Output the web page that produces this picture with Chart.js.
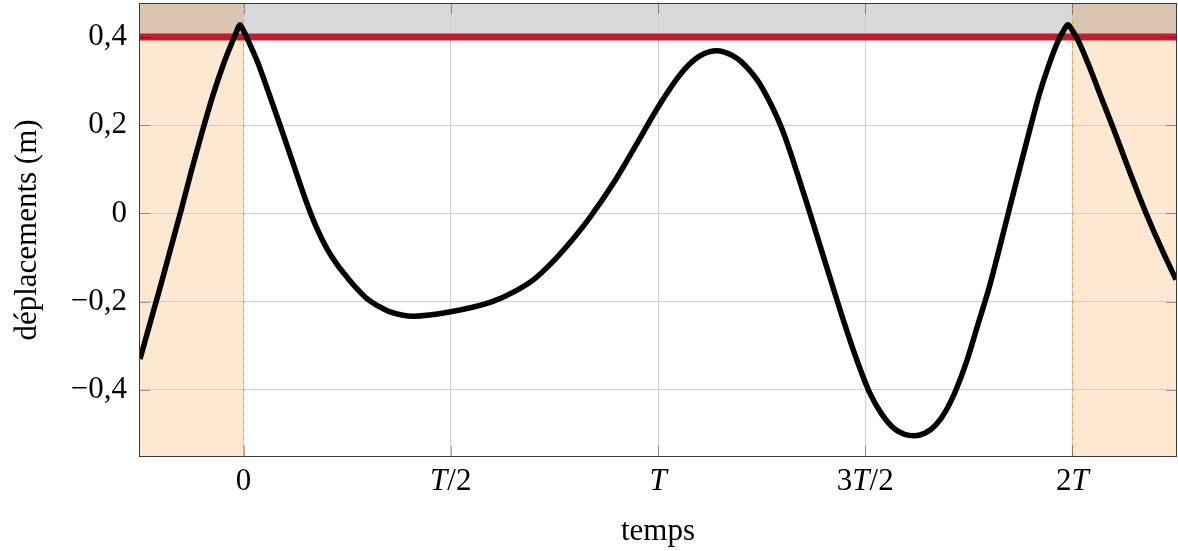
<!DOCTYPE html>
<html lang="fr">
<head>
<meta charset="utf-8">
<title>Déplacements</title>
<script src="https://cdn.jsdelivr.net/npm/chart.js@4.4.0/dist/chart.umd.min.js"></script>
<style>
  body { margin: 0; background: #fff; }
  #chart { display: block; }
</style>
</head>
<body>
<canvas id="chart" width="1178" height="551"></canvas>
<script>
// temps en multiples de T, déplacements en m
const timeValues = [
  -0.25, -0.2, -0.15, -0.125, -0.1, -0.075, -0.05, -0.03, -0.018, -0.009,
  0.0, 0.012, 0.033, 0.06, 0.088, 0.12, 0.15, 0.175, 0.2, 0.225,
  0.25, 0.275, 0.3, 0.325, 0.35, 0.41, 0.5, 0.6, 0.65, 0.7,
  0.735, 0.77, 0.83, 0.9, 0.95, 1.0, 1.05, 1.075, 1.1, 1.125,
  1.141, 1.16, 1.18, 1.2, 1.225, 1.25, 1.3, 1.35, 1.4, 1.45,
  1.48, 1.51, 1.54, 1.57, 1.595, 1.619, 1.645, 1.67, 1.695, 1.72,
  1.745, 1.77, 1.8, 1.825, 1.85, 1.875, 1.9, 1.92, 1.94, 1.965,
  1.979, 1.989, 2.0, 2.015, 2.04, 2.07, 2.1, 2.14, 2.178, 2.215,
  2.25
];
const displacementValues = [
  -0.33, -0.163, 0.01, 0.1, 0.185, 0.265, 0.335, 0.383, 0.41, 0.428,
  0.414, 0.39, 0.345, 0.275, 0.2, 0.112, 0.03, -0.03, -0.078, -0.115,
  -0.145, -0.172, -0.195, -0.21, -0.222, -0.233, -0.223, -0.2, -0.179, -0.15,
  -0.12, -0.085, -0.016, 0.08, 0.16, 0.241, 0.311, 0.338, 0.357, 0.367,
  0.369, 0.366, 0.358, 0.345, 0.32, 0.287, 0.19, 0.05, -0.1, -0.25,
  -0.333, -0.405, -0.455, -0.488, -0.501, -0.504, -0.498, -0.48, -0.447, -0.398,
  -0.335, -0.258, -0.165, -0.075, 0.018, 0.11, 0.2, 0.27, 0.328, 0.39,
  0.415, 0.428, 0.415, 0.39, 0.335, 0.262, 0.19, 0.09, 0.0, -0.08,
  -0.15
];

const xTickValues = [0, 0.5, 1, 1.5, 2];
const xTickLabels = ["0", "T/2", "T", "3T/2", "2T"];
const yTickValues = [-0.4, -0.2, 0, 0.2, 0.4];
const yTickLabels = ["\u22120,4", "\u22120,2", "0", "0,2", "0,4"];

const limitValue = 0.4;
const shadedRanges = [[-0.25, 0], [2, 2.25]];
const markerTimes = [0, 2];
const xRange = [-0.25, 2.25];
const yRange = [-0.55, 0.475];

const serif = "'Liberation Serif', 'DejaVu Serif', serif";
const fontSize = 31;

const curvePoints = timeValues.map((t, i) => ({ x: t, y: displacementValues[i] }));
const limitPoints = xRange.map((t) => ({ x: t, y: limitValue }));

const markerDatasets = markerTimes.map((t) => ({
  data: yRange.map((v) => ({ x: t, y: v })),
  borderColor: "#f2a33a",
  borderWidth: 1,
  borderDash: [5, 3],
  pointRadius: 0,
  order: 3,
}));

// zones colorées sous la grille
const backgroundPlugin = {
  id: "background",
  beforeDraw(chart) {
    const { ctx, chartArea, scales } = chart;
    ctx.save();
    ctx.fillStyle = "#fff";
    ctx.fillRect(0, 0, chart.width, chart.height);
    ctx.fillStyle = "#ffe8d1";
    shadedRanges.forEach(([a, b]) => {
      const x1 = scales.x.getPixelForValue(a);
      const x2 = scales.x.getPixelForValue(b);
      ctx.fillRect(x1, chartArea.top, x2 - x1, chartArea.bottom - chartArea.top);
    });
    const yLimit = scales.y.getPixelForValue(limitValue);
    ctx.fillStyle = "rgba(0, 0, 0, 0.15)";
    ctx.fillRect(chartArea.left, chartArea.top, chartArea.right - chartArea.left, yLimit - chartArea.top);
    ctx.restore();
  },
};

// cadre, petites graduations et étiquettes en T
const framePlugin = {
  id: "frame",
  afterDraw(chart) {
    const { ctx, chartArea } = chart;
    const { left, right, top, bottom } = chartArea;
    const x = chart.scales.x;
    const y = chart.scales.y;
    ctx.save();

    ctx.strokeStyle = "rgba(0, 0, 0, 0.35)";
    ctx.lineWidth = 1;
    ctx.beginPath();
    yTickValues.forEach((v) => {
      const py = Math.round(y.getPixelForValue(v)) + 0.5;
      ctx.moveTo(left, py); ctx.lineTo(left + 10, py);
      ctx.moveTo(right, py); ctx.lineTo(right - 10, py);
    });
    xTickValues.forEach((v) => {
      const px = Math.round(x.getPixelForValue(v)) + 0.5;
      ctx.moveTo(px, bottom); ctx.lineTo(px, bottom - 10);
      ctx.moveTo(px, top); ctx.lineTo(px, top + 10);
    });
    ctx.stroke();

    ctx.strokeStyle = "#3a3a3a";
    ctx.strokeRect(Math.round(left) - 0.5, Math.round(top) - 0.5, Math.round(right - left) + 1, Math.round(bottom - top) + 1);

    ctx.fillStyle = "#000";
    ctx.textBaseline = "alphabetic";
    ctx.textAlign = "left";
    const baseline = bottom + 34;
    xTickValues.forEach((value, i) => {
      const parts = xTickLabels[i].split(/(T)/).filter(Boolean).map((s) => ({
        s,
        font: (s === "T" ? "italic " : "") + fontSize + "px " + serif,
      }));
      let total = 0;
      parts.forEach((p) => {
        ctx.font = p.font;
        p.w = ctx.measureText(p.s).width;
        total += p.w;
      });
      let cx = x.getPixelForValue(value) - total / 2;
      parts.forEach((p) => {
        ctx.font = p.font;
        ctx.fillText(p.s, cx, baseline);
        cx += p.w;
      });
    });
    ctx.restore();
  },
};

const chart = document.getElementById("chart");

new Chart(chart, {
  type: "line",
  data: {
    datasets: [
      {
        data: curvePoints,
        borderColor: "#000",
        borderWidth: 5.5,
        borderJoinStyle: "round",
        pointRadius: 0,
        cubicInterpolationMode: "monotone",
        order: 1,
      },
      {
        data: limitPoints,
        borderColor: "#be1e31",
        borderWidth: 7,
        pointRadius: 0,
        order: 2,
      },
      ...markerDatasets,
    ],
  },
  options: {
    responsive: false,
    animation: false,
    devicePixelRatio: 1,
    layout: { padding: { top: 4, right: 2, bottom: 0, left: 0 } },
    plugins: {
      legend: { display: false },
      tooltip: { enabled: false },
    },
    scales: {
      x: {
        type: "linear",
        min: xRange[0],
        max: xRange[1],
        afterBuildTicks: (scale) => {
          scale.ticks = xTickValues.map((v) => ({ value: v }));
        },
        afterFit: (scale) => {
          scale.height = 95;
          scale.paddingLeft = 0;
          scale.paddingRight = 0;
        },
        ticks: { display: false },
        grid: { color: "#cdcdcd", lineWidth: 1, drawTicks: false },
        border: { display: false },
        title: {
          display: true,
          text: "temps",
          color: "#000",
          font: { family: serif, size: fontSize },
          padding: { top: 0, bottom: 1 },
        },
      },
      y: {
        type: "linear",
        min: yRange[0],
        max: yRange[1],
        afterBuildTicks: (scale) => {
          scale.ticks = yTickValues.map((v) => ({ value: v }));
        },
        afterFit: (scale) => {
          scale.width = 140;
          scale.paddingTop = 0;
          scale.paddingBottom = 0;
        },
        ticks: {
          padding: 13,
          color: "#000",
          font: { family: serif, size: fontSize },
          callback: (value, index) => yTickLabels[index],
        },
        grid: { color: "#cdcdcd", lineWidth: 1, drawTicks: false },
        border: { display: false },
        title: {
          display: true,
          text: "déplacements (m)",
          color: "#000",
          font: { family: serif, size: fontSize },
          padding: { top: 9, bottom: 0 },
        },
      },
    },
  },
  plugins: [backgroundPlugin, framePlugin],
});
</script>
</body>
</html>
